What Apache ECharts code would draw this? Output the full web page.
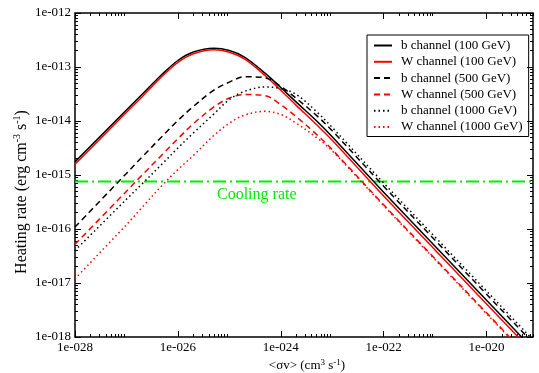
<!DOCTYPE html>
<html>
<head>
<meta charset="utf-8">
<script src="https://cdn.jsdelivr.net/npm/echarts@6/dist/echarts.min.js"></script>
<style>
html, body {margin: 0; padding: 0; background: #fff;}
#chart {width: 539px; height: 373px;}
</style>
</head>
<body>
<div id="chart"></div>
<script>
// <σv> sample points (cm^3 s^-1), shared by all six curves
const sigmaV = [1e-28, 1e-27, 2e-27, 5e-27, 1e-26, 2e-26, 5e-26, 1e-25, 2e-25, 5e-25,
                1e-24, 2e-24, 5e-24, 1e-23, 1e-22, 1e-21, 1e-20, 1e-19];

// heating rate (erg cm^-3 s^-1)
const bChannel100 = [1.75e-15, 1.6e-14, 3.09e-14, 7.4e-14, 1.32e-13, 1.89e-13, 2.22e-13, 2.02e-13, 1.51e-13, 7.6e-14,
                     4.17e-14, 2.24e-14, 1.0e-14, 5.1e-15, 4.8e-16, 4.8e-17, 4.8e-18, 4.8e-19];
const wChannel100 = [1.58e-15, 1.45e-14, 2.79e-14, 6.8e-14, 1.22e-13, 1.76e-13, 2.08e-13, 1.88e-13, 1.4e-13, 6.9e-14,
                     3.7e-14, 1.95e-14, 8.5e-15, 4.4e-15, 4.1e-16, 4.1e-17, 4.1e-18, 4.1e-19];
const bChannel500 = [1.09e-16, 1.07e-15, 2.14e-15, 5.25e-15, 1.02e-14, 1.86e-14, 3.72e-14, 5.25e-14, 6.6e-14, 6.3e-14,
                     4.37e-14, 2.63e-14, 1.26e-14, 6.6e-15, 6.2e-16, 6.2e-17, 6.2e-18, 6.2e-19];
const wChannel500 = [5.2e-17, 5.0e-16, 9.9e-16, 2.4e-15, 4.7e-15, 8.9e-15, 1.82e-14, 2.66e-14, 3.09e-14, 2.95e-14,
                     2.0e-14, 1.2e-14, 5.6e-15, 2.95e-15, 2.8e-16, 2.8e-17, 2.8e-18, 2.8e-19];
const bChannel1000 = [4.0e-17, 3.55e-16, 6.8e-16, 1.62e-15, 3.16e-15, 6.0e-15, 1.35e-14, 2.5e-14, 3.55e-14, 4.27e-14,
                      3.98e-14, 3.1e-14, 1.48e-14, 7.6e-15, 7.1e-16, 7.1e-17, 7.1e-18, 7.1e-19];
const wChannel1000 = [1.2e-17, 1.2e-16, 2.5e-16, 6.5e-16, 1.26e-15, 2.3e-15, 5.4e-15, 9.1e-15, 1.29e-14, 1.51e-14,
                      1.32e-14, 9.1e-15, 4.9e-15, 2.8e-15, 2.7e-16, 2.7e-17, 2.7e-18, 2.7e-19];

const coolingX = [1e-28, 8e-20];
const coolingY = [7.6e-16, 7.6e-16];

const xTickExp = [-28, -26, -24, -22, -20];
const yTickExp = [-18, -17, -16, -15, -14, -13, -12];
const xMaxMantissa = 8;   // x axis ends at 8e-20

// the log axis rounds tick values to 10 decimals, so plot in units of 1e-28 and 1e-18
const X_UNIT = 1e-28, Y_UNIT = 1e-18;
const X_SHIFT = 28, Y_SHIFT = 18;

const font = 'Liberation Serif';
const green = '#00ee00';

const pad3 = e => (e < 0 ? '-' : '+') + String(Math.abs(e)).padStart(3, '0');
const majors = (exps, shift) => exps.map(e => Math.pow(10, e + shift));
const minors = (exps, shift, max) => {
    const out = [];
    exps.forEach(e => {
        for (let k = 2; k <= 9; k++) {
            const v = k * Math.pow(10, e + shift);
            if (v <= max) out.push(v);
        }
    });
    return out;
};

const xMax = xMaxMantissa * Math.pow(10, xTickExp[xTickExp.length - 1] + X_SHIFT);
const yMax = Math.pow(10, yTickExp[yTickExp.length - 1] + Y_SHIFT);
const xMajor = majors(xTickExp, X_SHIFT);
const xMinor = minors(xTickExp, X_SHIFT, xMax);
const yMajor = majors(yTickExp, Y_SHIFT);
const yMinor = minors(yTickExp.slice(0, -1), Y_SHIFT, yMax);

const tickAxis = (position, min, max, values, len, extra) => Object.assign({
    type: 'log',
    logBase: 10,
    position: position,
    min: min,
    max: max,
    axisLine: {show: false},
    splitLine: {show: false},
    axisTick: {show: true, inside: true, length: len, customValues: values,
               lineStyle: {color: '#000', width: 1}},
    axisLabel: {show: false}
}, extra || {});

const labelStyle = {fontFamily: font, fontSize: 13, color: '#000'};

const chart = echarts.init(document.getElementById('chart'));

const lineSeries = (name, values, color, type) => ({
    name: name,
    type: 'line',
    symbol: 'none',
    smooth: 0.35,
    clip: true,
    xAxisIndex: 0,
    yAxisIndex: 0,
    lineStyle: {color: color, width: 1.5, type: type, cap: 'butt'},
    itemStyle: {color: color},
    data: sigmaV.map((x, i) => [x / X_UNIT, values[i] / Y_UNIT])
});

chart.setOption({
    animation: false,
    textStyle: {fontFamily: font},
    grid: {left: 75, right: 6, top: 13, bottom: 36, show: true, outerBoundsMode: 'none',
           borderColor: '#000', borderWidth: 1.5, backgroundColor: 'transparent'},
    legend: {
        orient: 'vertical',
        left: 367,
        top: 35,
        padding: [4, 6, 3, 6],
        borderColor: '#000',
        borderWidth: 1,
        borderRadius: 0,
        itemWidth: 18,
        itemHeight: 14,
        itemGap: 3.3,
        itemStyle: {opacity: 0},
        textStyle: {fontFamily: font, fontSize: 13, color: '#000', padding: [0, 0, 0, 4]},
        data: ['b channel (100 GeV)', 'W channel (100 GeV)', 'b channel (500 GeV)',
               'W channel (500 GeV)', 'b channel (1000 GeV)', 'W channel (1000 GeV)']
    },
    xAxis: [
        tickAxis('bottom', 1, xMax, xMajor, 6, {
            axisLabel: Object.assign({show: true, customValues: xMajor, margin: 4,
                formatter: v => '1e' + pad3(Math.round(Math.log10(v)) - X_SHIFT)}, labelStyle),
            name: '{n|<σv> (cm}{s|3}{n| s}{s|-1}{n|)}',
            nameLocation: 'middle',
            nameMoveOverlap: false,
            nameGap: 21,
            nameTextStyle: {padding: [0, 0, 0, 6], rich: {
                n: {fontFamily: font, fontSize: 13, color: '#000', lineHeight: 16},
                s: {fontFamily: font, fontSize: 9, color: '#000', verticalAlign: 'top', lineHeight: 9}
            }}
        }),
        tickAxis('bottom', 1, xMax, xMinor, 3),
        tickAxis('top', 1, xMax, xMajor, 6),
        tickAxis('top', 1, xMax, xMinor, 3)
    ],
    yAxis: [
        tickAxis('left', 1, yMax, yMajor, 6, {
            axisLabel: Object.assign({show: true, customValues: yMajor, margin: 4,
                formatter: v => '1e' + pad3(Math.round(Math.log10(v)) - Y_SHIFT)}, labelStyle),
            name: '{n|Heating rate (erg cm}{s|-3}{n| s}{s|-1}{n|)}',
            nameLocation: 'middle',
            nameMoveOverlap: false,
            nameGap: 44,
            nameTextStyle: {padding: [0, 34, 0, 0], rich: {
                n: {fontFamily: font, fontSize: 16, color: '#000', lineHeight: 19},
                s: {fontFamily: font, fontSize: 10, color: '#000', verticalAlign: 'top', lineHeight: 10}
            }}
        }),
        tickAxis('left', 1, yMax, yMinor, 3),
        tickAxis('right', 1, yMax, yMajor, 6),
        tickAxis('right', 1, yMax, yMinor, 3)
    ],
    graphic: [{
        type: 'text',
        left: 217,
        top: 187,
        style: {text: 'Cooling rate', fontFamily: font, fontSize: 16, fill: green}
    }],
    series: [
        {
            name: 'Cooling rate',
            type: 'line',
            symbol: 'none',
            xAxisIndex: 0,
            yAxisIndex: 0,
            lineStyle: {color: green, width: 2, type: [13, 4, 2, 4]},
            data: coolingX.map((x, i) => [x / X_UNIT, coolingY[i] / Y_UNIT])
        },
        lineSeries('b channel (100 GeV)', bChannel100, '#000', 'solid'),
        lineSeries('W channel (100 GeV)', wChannel100, '#ff0000', 'solid'),
        lineSeries('b channel (500 GeV)', bChannel500, '#000', [6, 4]),
        lineSeries('W channel (500 GeV)', wChannel500, '#ff0000', [6, 4]),
        lineSeries('b channel (1000 GeV)', bChannel1000, '#000', [1.5, 3]),
        lineSeries('W channel (1000 GeV)', wChannel1000, '#ff0000', [1.5, 3])
    ]
});
</script>
</body>
</html>
